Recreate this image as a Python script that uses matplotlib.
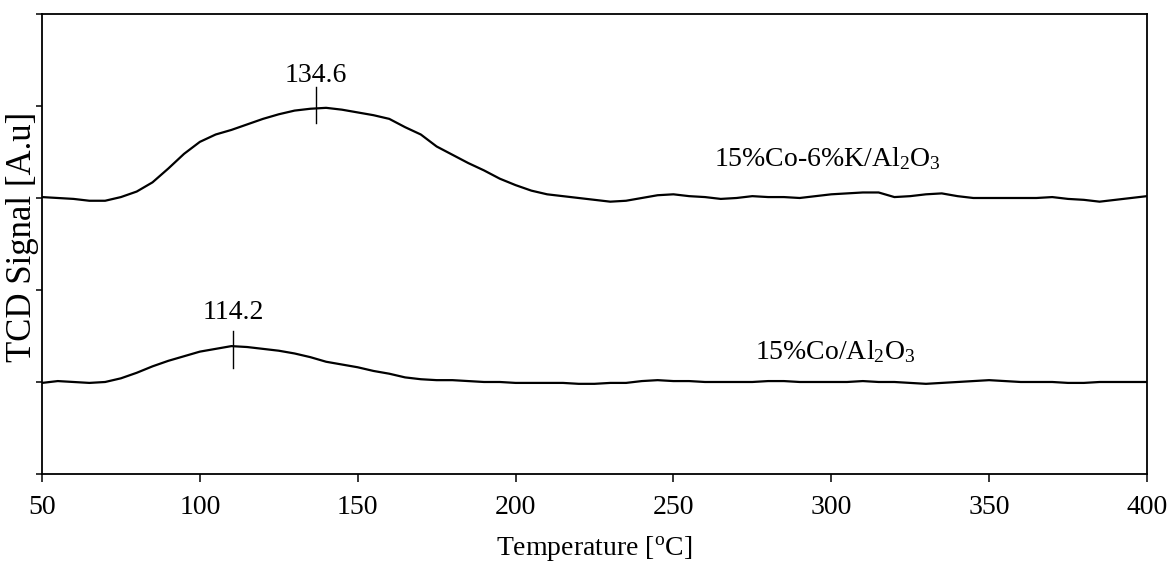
import numpy as np
import matplotlib
matplotlib.use("Agg")
import matplotlib.pyplot as plt

plt.rcParams['font.family'] = ['Liberation Serif', 'DejaVu Serif']
plt.rcParams['mathtext.fontset'] = 'custom'
plt.rcParams['mathtext.rm'] = 'Liberation Serif'
plt.rcParams['mathtext.it'] = 'Liberation Serif:italic'
plt.rcParams['font.size'] = 20

# temperature grid [C], read every 5 degrees off the picture
temperature = list(range(50, 405, 5))

# 15%Co-6%K/Al2O3 (upper trace)
signal_cok = [3.01, 3.00, 2.99, 2.97, 2.97, 3.01, 3.07, 3.17, 3.32, 3.48,
              3.61, 3.69, 3.74, 3.80, 3.86, 3.91, 3.95, 3.97, 3.98, 3.96,
              3.93, 3.90, 3.86, 3.77, 3.69, 3.56, 3.47, 3.38, 3.30, 3.21,
              3.14, 3.08, 3.04, 3.02, 3.00, 2.98, 2.96, 2.97, 3.00, 3.03,
              3.04, 3.02, 3.01, 2.99, 3.00, 3.02, 3.01, 3.01, 3.00, 3.02,
              3.04, 3.05, 3.06, 3.06, 3.01, 3.02, 3.04, 3.05, 3.02, 3.00,
              3.00, 3.00, 3.00, 3.00, 3.01, 2.99, 2.98, 2.96, 2.98, 3.00,
              3.02]

# 15%Co/Al2O3 (lower trace)
signal_co = [0.99, 1.01, 1.00, 0.99, 1.00, 1.04, 1.10, 1.17, 1.23, 1.28,
             1.33, 1.36, 1.39, 1.38, 1.36, 1.34, 1.31, 1.27, 1.22, 1.19,
             1.16, 1.12, 1.09, 1.05, 1.03, 1.02, 1.02, 1.01, 1.00, 1.00,
             0.99, 0.99, 0.99, 0.99, 0.98, 0.98, 0.99, 0.99, 1.01, 1.02,
             1.01, 1.01, 1.00, 1.00, 1.00, 1.00, 1.01, 1.01, 1.00, 1.00,
             1.00, 1.00, 1.01, 1.00, 1.00, 0.99, 0.98, 0.99, 1.00, 1.01,
             1.02, 1.01, 1.00, 1.00, 1.00, 0.99, 0.99, 1.00, 1.00, 1.00,
             1.00]

# peak markers: (position on axis, label)
peak_cok = (136.8, "134.6")
peak_co = (110.5, "114.2")

fig = plt.figure(figsize=(11.7, 5.62), dpi=100)
ax = fig.add_axes([0.0359, 0.1566, 0.9444, 0.8185])

ax.plot(temperature, signal_cok, color='black', lw=1.6)
ax.plot(temperature, signal_co, color='black', lw=1.6)

# peak ticks and labels
ax.plot([peak_cok[0], peak_cok[0]], [3.81, 4.21], color='black', lw=1)
ax.text(peak_cok[0], 4.33, peak_cok[1], ha='center', va='center')
ax.plot([peak_co[0], peak_co[0]], [1.15, 1.55], color='black', lw=1)
ax.text(peak_co[0], 1.75, peak_co[1], ha='center', va='center')

ax.text(263, 3.43, "15%Co-6%K/Al$_2$O$_3$", ha='left', va='center')
ax.text(276, 1.33, "15%Co/Al$_2$O$_3$", ha='left', va='center')

ax.set_xlim(50, 400)
ax.set_ylim(0, 5)
ax.set_xticks(np.arange(50, 401, 50))
ax.set_yticks(np.arange(0, 6, 1))
ax.set_yticklabels([])
ax.tick_params(axis='x', direction='out', length=6, width=1.1, pad=9)
ax.tick_params(axis='y', direction='out', length=4.5, width=1.1)
for sp in ax.spines.values():
    sp.set_linewidth(1.3)

ax.set_xlabel("Temperature [$^{\\rm o}$C]", labelpad=10)
ax.set_ylabel("TCD Signal [A.u]", fontsize=25, va='center')
ax.yaxis.set_label_coords(-0.018, 0.515)

fig.savefig("out.png", dpi=100)
